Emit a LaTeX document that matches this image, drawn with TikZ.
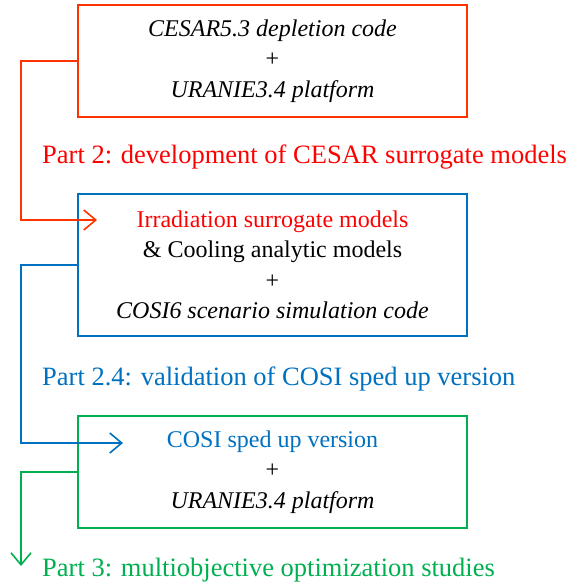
\documentclass[tikz,border=0pt]{standalone}
\usepackage{fontspec}
\setmainfont{Liberation Serif}
\usetikzlibrary{arrows.meta}
\definecolor{cesarred}{HTML}{FF3300}
\definecolor{partred}{HTML}{FF0000}
\definecolor{cosiblue}{HTML}{0070C0}
\definecolor{optgreen}{HTML}{00B050}
\tikzset{
  box/.style={draw, line width=2pt, minimum width=389pt, align=center,
    font=\fontsize{24}{30.5}\selectfont},
  partlabel/.style={anchor=west, inner sep=0pt, font=\fontsize{26.5}{30}\selectfont},
  link/.style={line width=2pt, -{Straight Barb[length=12pt,width=20pt,line width=1.6pt]}}
}
\begin{document}
\begin{tikzpicture}[x=1pt,y=-1pt]
        \useasboundingbox (0,0) rectangle (580,585);
        %\draw[help lines] (0,0) grid[step=50] (580,585);
        \node[box, draw=cesarred, minimum height=112pt] (cesar) at (272.5,61)
          {\textit{CESAR5.3 depletion code}\\+\\\textit{URANIE3.4 platform}};
        \node[partlabel, text=partred] (part2) at (42,157)
          {Part 2: development of CESAR surrogate models};

        \node[box, draw=cosiblue, minimum height=142pt] (cosi) at (272.5,265)
          {\textcolor{partred}{Irradiation surrogate models}\\\& Cooling analytic models\\+\\\textit{COSI6 scenario simulation code}};
        \node[partlabel, text=cosiblue] (part24) at (42,379)
          {Part 2.4: validation of COSI sped up version};

        \node[box, draw=optgreen, minimum height=112pt] (fast) at (272.5,472)
          {\textcolor{cosiblue}{COSI sped up version}\\+\\\textit{URANIE3.4 platform}};
        \node[partlabel, text=optgreen] (part3) at (42,570)
          {Part 3: multiobjective optimization studies};

        \coordinate (irrtip) at (97,220);
        \coordinate (fasttip) at (123,443);
        \coordinate (opttip) at (21,566);

        \draw[link, cesarred] (cesar.west) -| (21,220) -- (irrtip);
        \draw[link, cosiblue] (cosi.west) -| (21,443) -- (fasttip);
        \draw[link, optgreen] (fast.west) -| (opttip);
\end{tikzpicture}
\end{document}
